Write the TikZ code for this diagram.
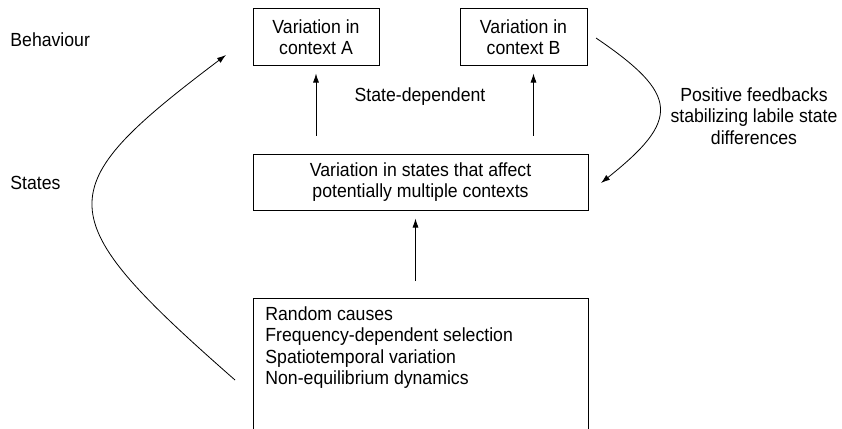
\documentclass[tikz,border=0pt]{standalone}
\usepackage{fontspec}
\setmainfont{Liberation Sans}[FakeStretch=0.93]
\usetikzlibrary{arrows.meta,positioning,calc}
\tikzset{
  every picture/.style={line width=0.8pt},
  sfont/.style={font=\fontsize{19}{21.5}\selectfont},
  sbox/.style={draw, line width=1pt, rectangle, align=center, inner sep=0pt, sfont},
  stag/.style={inner sep=0pt, anchor=west, sfont},
  sup/.style={-{Latex[length=9pt,width=6pt]}},
  sloop/.style={-{Latex[length=9pt,width=6pt]}},
}

\begin{document}
\begin{tikzpicture}[x=1pt,y=-1pt]
\useasboundingbox (0,0) rectangle (842,428);
% level labels
\node[stag] (behav) at (10,40) {Behaviour};
\node[stag] (states) at (10,183) {States};
% boxes
\node[sbox,minimum width=126,minimum height=56] (ctxA) at (316,37) {Variation in\\context A};
\node[sbox,minimum width=127,minimum height=56] (ctxB) at (523.5,37) {Variation in\\context B};
\node[sbox,minimum width=335,minimum height=56] (stbox) at (420.5,182)
  {Variation in states that affect\\potentially multiple contexts};
\node[sbox,anchor=north,minimum width=335,minimum height=150] (causes) at (420.5,298) {};
\node[sfont,anchor=north west,inner sep=0pt,align=left] (clist) at (265,306)
  {Random causes\\Frequency-dependent selection\\Spatiotemporal variation\\Non-equilibrium dynamics};
\node[sfont,inner sep=0pt] (stdep) at (420,97) {State-dependent};
\node[sfont,inner sep=0pt,align=center] (fb) at (754,116)
  {Positive feedbacks\\stabilizing labile state\\differences};
% state-dependent arrows
\draw[sup,shorten <=18pt,shorten >=8pt] (stbox.north -| ctxA.south) -- (ctxA.south);
\draw[sup,shorten <=18pt,shorten >=8pt] ([xshift=10pt]stbox.north -| ctxB.south) -- ([xshift=10pt]ctxB.south);
\draw[sup,shorten <=17pt,shorten >=8pt] ([xshift=-5pt]causes.north) -- ([xshift=-5pt]stbox.south);
% curved arrows
\coordinate (lfrom) at (235,380);
\coordinate (lto) at (226,55);
\coordinate (rfrom) at (596,38);
\coordinate (rto) at (601,183);
\draw[sloop] (lfrom) .. controls (47,215) and (47,190) .. (lto);
\draw[sloop] (rfrom) .. controls (680,95) and (680,120) .. (rto);
\end{tikzpicture}
\end{document}
